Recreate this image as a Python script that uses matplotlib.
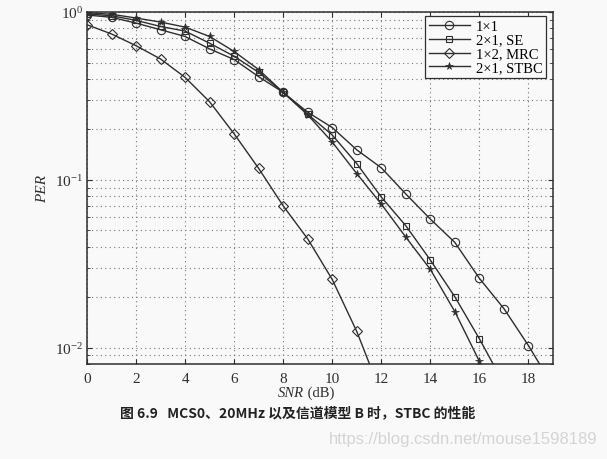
import matplotlib
matplotlib.use("Agg")
import matplotlib.pyplot as plt
from matplotlib.ticker import LogLocator, NullFormatter

snr = list(range(0, 20))

per_1x1 = [0.96, 0.93, 0.859, 0.784, 0.715, 0.603, 0.521, 0.412, 0.332, 0.253,
           0.205, 0.151, 0.118, 0.0824, 0.0584, 0.0424, 0.0259, 0.0171, 0.0103, 0.0059]
per_se = [0.975, 0.95, 0.892, 0.82, 0.77, 0.652, 0.545, 0.437, 0.332, 0.246,
          0.185, 0.125, 0.079, 0.0533, 0.0333, 0.0201, 0.0113, 0.0061]
per_mrc = [0.84, 0.74, 0.63, 0.525, 0.408, 0.292, 0.188, 0.117, 0.070, 0.0445,
           0.0255, 0.0125, 0.0053]
per_stbc = [0.99, 0.97, 0.921, 0.871, 0.813, 0.715, 0.582, 0.454, 0.332, 0.244,
            0.168, 0.109, 0.0718, 0.0456, 0.0293, 0.0164, 0.0083, 0.0042]

labels = ["1×1", "2×1, SE", "1×2, MRC", "2×1, STBC"]
caption = "图 6.9   MCS0、20MHz 以及信道模型 B 时，STBC 的性能"
watermark = "https://blog.csdn.net/mouse1598189"

bg = "#f9f9f9"
ink = "#2e2e2e"
plt.rcParams["font.family"] = ["Liberation Serif", "DejaVu Serif"]

fig = plt.figure(figsize=(6.07, 4.6), dpi=100, facecolor=bg)
ax = fig.add_axes([0.1433, 0.2065, 0.7677, 0.7652], facecolor=bg)

ax.semilogy(snr[:len(per_1x1)], per_1x1, color=ink, lw=1.0, marker="o", ms=6,
            mfc="none", mec=ink, mew=0.8, label=labels[0])
ax.semilogy(snr[:len(per_se)], per_se, color=ink, lw=1.0, marker="s", ms=4.5,
            mfc="none", mec=ink, mew=0.8, label=labels[1])
ax.semilogy(snr[:len(per_mrc)], per_mrc, color=ink, lw=1.0, marker="D", ms=5,
            mfc="none", mec=ink, mew=0.8, label=labels[2])
ax.semilogy(snr[:len(per_stbc)], per_stbc, color=ink, lw=1.0, marker="*", ms=5.5,
            mfc=ink, mec=ink, mew=0.5, label=labels[3])

ax.set_xlim(0, 19)
ax.set_ylim(0.008, 1.0)
ax.set_xticks(range(0, 19, 2))
ax.yaxis.set_major_locator(LogLocator(base=10))
ax.yaxis.set_minor_locator(LogLocator(base=10, subs=range(2, 10)))
ax.yaxis.set_minor_formatter(NullFormatter())

ax.grid(True, which="major", ls=(0, (1, 3)), color="#777777", lw=0.8)
ax.grid(True, which="minor", axis="y", ls=(0, (1, 3)), color="#777777", lw=0.8)
ax.tick_params(which="both", direction="in", top=True, right=True, labelsize=11, colors=ink)
ax.tick_params(axis="x", pad=6)
ax.tick_params(axis="y", pad=3)
for s in ax.spines.values():
    s.set_color(ink)
    s.set_linewidth(1.1)

ax.set_ylabel("PER", style="italic", fontsize=11, color=ink, labelpad=4)
fig.text(0.5, 0.145, "SNR", style="italic", fontsize=10.5, color=ink, ha="right", va="center")
fig.text(0.5, 0.145, " (dB)", fontsize=10.5, color=ink, ha="left", va="center")

leg = ax.legend(loc="upper right", bbox_to_anchor=(0.985, 0.989), borderaxespad=0,
                fontsize=10.5, frameon=True, fancybox=False, edgecolor=ink,
                facecolor=bg, framealpha=1, handlelength=2.8, borderpad=0.25,
                labelspacing=0.05, handletextpad=0.4)
leg.get_frame().set_linewidth(0.9)

fig.text(0.49, 0.102, caption, fontsize=10, fontweight="bold", color="#222222",
         ha="center", va="center", family=["Noto Sans CJK SC", "DejaVu Sans"])
fig.text(0.984, 0.044, watermark, fontsize=12, color="#d4d4d4",
         ha="right", va="center", family=["Liberation Sans", "DejaVu Sans"])

fig.savefig("out.png", dpi=100, facecolor=bg)
